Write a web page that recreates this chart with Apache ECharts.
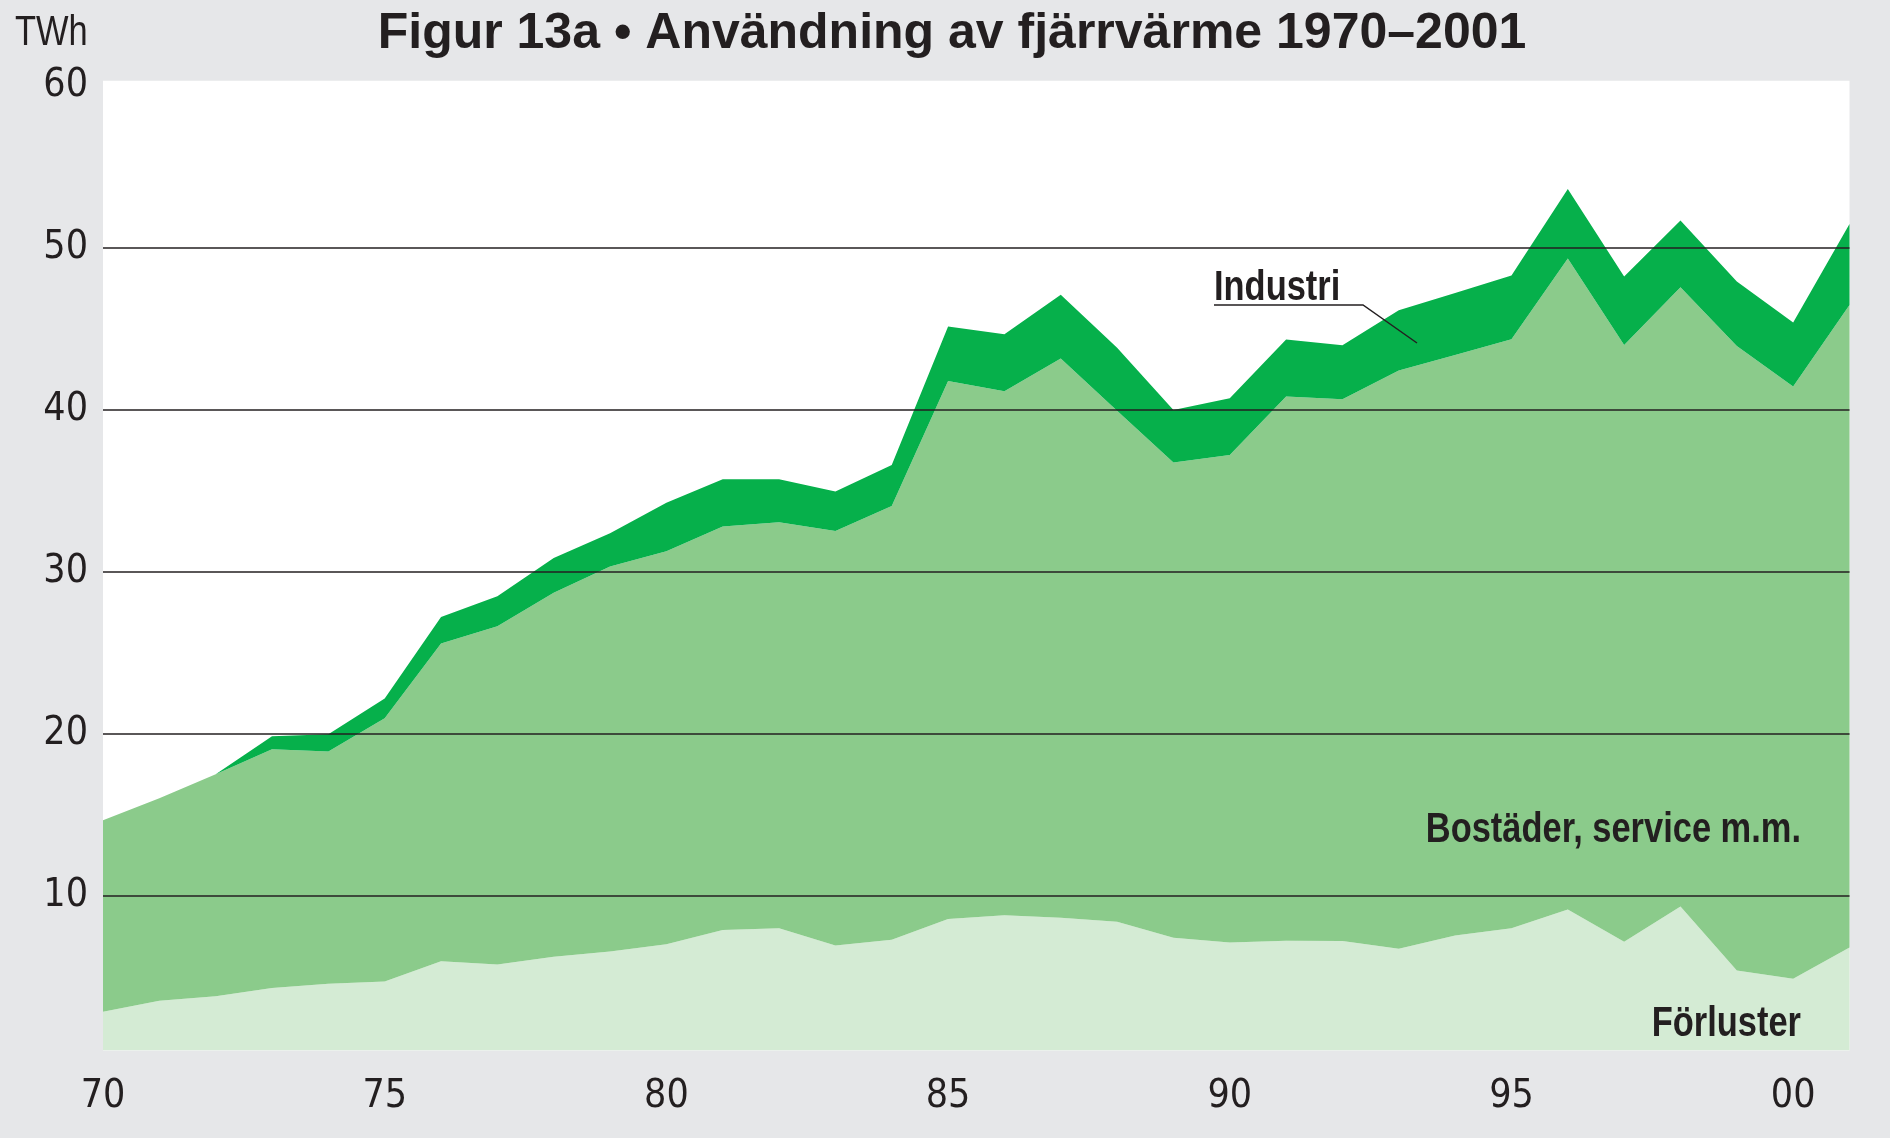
<!DOCTYPE html>
<html><head><meta charset="utf-8">
<script src="https://cdn.jsdelivr.net/npm/echarts@6/dist/echarts.min.js"></script>
<style>html,body{margin:0;padding:0;background:#e6e7e9}#c{width:1890px;height:1138px}</style>
</head><body><div id="c"></div>
<script>
// Years 1970–2001
const years = ['1970','1971','1972','1973','1974','1975','1976','1977','1978','1979',
  '1980','1981','1982','1983','1984','1985','1986','1987','1988','1989',
  '1990','1991','1992','1993','1994','1995','1996','1997','1998','1999','2000','2001'];
// TWh, stacked from the bottom
const forluster = [2.84,3.52,3.79,4.30,4.57,4.70,5.95,5.76,6.23,6.55,
  7.01,7.88,7.99,6.93,7.29,8.56,8.79,8.64,8.39,7.40,
  7.12,7.22,7.20,6.73,7.54,7.99,9.15,7.16,9.34,5.38,4.87,6.80];
const bostader = [11.82,12.49,13.71,14.74,14.33,16.25,19.62,20.87,22.47,23.78,
  24.25,24.91,25.07,25.59,26.77,33.22,32.35,34.52,31.54,29.34,
  30.09,33.59,33.45,35.69,35.84,36.36,40.18,36.84,38.22,38.56,36.56,39.67];
const industri = [0,0,0,0.81,1.06,1.23,1.63,1.85,2.14,2.05,
  3.00,2.92,2.65,2.43,2.53,3.35,3.52,3.93,3.90,3.25,
  3.50,3.52,3.33,3.72,3.82,3.93,4.30,4.22,4.12,3.97,3.95,5.00];
const yTickLabels = [10,20,30,40,50,60];
const gridLineValues = [10,20,30,40,50];

const COND = '"DejaVu Sans Condensed", "Liberation Sans", sans-serif';
const ARIAL = '"Liberation Sans", Arial, sans-serif';
const INK = '#231f20';

function label(text, x, y, size, bold, align) {
  return { type:'text', x: x, y: y, z: 20, scaleX: 0.82,
    style:{ text: text, font: (bold ? 'bold ' : '') + size + 'px ' + ARIAL, fill: INK,
      align: align, verticalAlign:'middle', textAlign: align, textVerticalAlign:'middle' } };
}

const chart = echarts.init(document.getElementById('c'), null, {renderer:'canvas'});
chart.setOption({
  backgroundColor: '#e6e7e9',
  animation: false,
  grid: { left: 103, right: 40.5, top: 80.7, bottom: 87.4, show: true, backgroundColor: '#ffffff', borderWidth: 0 },
  xAxis: {
    type: 'category', data: years, boundaryGap: false,
    axisLine: {show:false}, axisTick: {show:false}, splitLine: {show:false},
    axisLabel: { interval: 4, formatter: v => v.slice(2), fontFamily: COND, fontSize: 39, color: INK, margin: 27 }
  },
  yAxis: {
    type: 'value', min: 0.44, max: 60.31,
    axisLine: {show:false}, axisTick: {show:false}, splitLine: {show:false},
    axisLabel: { customValues: yTickLabels, fontFamily: COND, fontSize: 39, color: INK, margin: 15 }
  },
  series: [
    { name:'Förluster', type:'line', stack:'t', data: forluster, symbol:'none',
      lineStyle:{width:0}, areaStyle:{color:'#d4ebd4', opacity:1} },
    { name:'Bostäder, service m.m.', type:'line', stack:'t', data: bostader, symbol:'none',
      lineStyle:{width:0}, areaStyle:{color:'#8bcb8b', opacity:1} },
    { name:'Industri', type:'line', stack:'t', data: industri, symbol:'none',
      lineStyle:{width:0}, areaStyle:{color:'#06b04b', opacity:1} },
    { name:'grid', type:'line', data: [], z: 10,
      markLine: { silent:true, symbol:'none', label:{show:false},
        lineStyle:{color:INK, width:1.6, type:'solid'},
        data: gridLineValues.map(v => ({yAxis: v})) } }
  ],
  graphic: [
    { type:'text', x: 952, y: 34, z: 20,
      style:{ text:'Figur 13a • Användning av fjärrvärme 1970–2001', font:'bold 50px ' + ARIAL,
        fill: INK, align:'center', verticalAlign:'middle', textAlign:'center', textVerticalAlign:'middle' } },
    label('TWh', 15, 33, 42, false, 'left'),
    label('Industri', 1214, 288, 42, true, 'left'),
    { type:'polyline', z: 20, shape:{ points:[[1214,305],[1363,305],[1417,343]] },
      style:{ stroke: INK, lineWidth: 1.5, fill: null } },
    label('Bostäder, service m.m.', 1801, 830, 42, true, 'right'),
    label('Förluster', 1801, 1024, 42, true, 'right')
  ]
});
</script></body></html>
